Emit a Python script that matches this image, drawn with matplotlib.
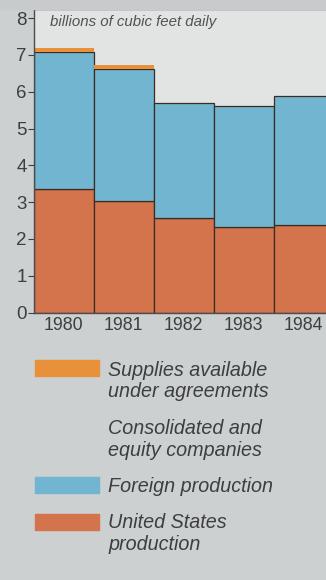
import matplotlib.pyplot as plt
from matplotlib.patches import Rectangle
import numpy as np

plt.rcParams['font.family'] = ['Liberation Sans', 'DejaVu Sans']

years = ['1980', '1981', '1982', '1983', '1984']
us_production = [3.35, 3.02, 2.56, 2.32, 2.37]
foreign_production = [3.72, 3.60, 3.14, 3.28, 3.51]
supplies = [0.11, 0.10, 0.0, 0.0, 0.0]

c_us = '#d3744c'
c_foreign = '#71b5d0'
c_supply = '#e9903b'
c_edge = '#3b2c22'
c_text = '#3c3e40'

fig = plt.figure(figsize=(3.26, 5.8), dpi=100, facecolor='#cdd0d0')
ax = fig.add_axes([33.5 / 326, 1 - 312.5 / 580, 1 - 33.5 / 326, (312.5 - 9) / 580])
ax.set_facecolor('#e2e4e4')

x = np.arange(len(years))
ax.bar(x, us_production, width=1, align='edge', color=c_us, edgecolor=c_edge, linewidth=0.9)
ax.bar(x, foreign_production, bottom=us_production, width=1, align='edge',
       color=c_foreign, edgecolor=c_edge, linewidth=0.9)
tops = np.add(us_production, foreign_production)
ax.bar(x, supplies, bottom=tops, width=1, align='edge', color=c_supply, linewidth=0)

ax.set_xlim(0, (326 - 33.5) / 60)
ax.set_ylim(0, 8.25)
ax.set_yticks(range(9))
ax.set_xticks(x + 0.5)
ax.set_xticklabels(years)
ax.tick_params(axis='y', direction='out', length=4, width=0.8, color=c_text,
               labelsize=13.5, labelcolor=c_text, pad=1)
ax.tick_params(axis='x', length=0, labelsize=12.8, labelcolor=c_text, pad=3)
for side in ['left', 'bottom', 'top']:
    ax.spines[side].set_color('#4a4c4e')
    ax.spines[side].set_linewidth(1.0)
ax.spines['right'].set_visible(False)

ax.text(0.27, 7.9, 'billions of cubic feet daily', style='italic', fontsize=10.8,
        color='#505254', va='center', ha='left')

# top band above the plot frame
fig.patches.append(Rectangle((0, 1 - 9 / 580), 1, 9 / 580, transform=fig.transFigure,
                             color='#c8cbcb', zorder=0))

# legend drawn in pixel coordinates
lg = fig.add_axes([0, 0, 1, 1], facecolor='none')
lg.set_xlim(0, 326)
lg.set_ylim(580, 0)
lg.axis('off')

entries = [
    (c_supply, 360, ['Supplies available', 'under agreements'], 370.5),
    (None, None, ['Consolidated and', 'equity companies'], 429),
    (c_foreign, 477, ['Foreign production'], 486),
    (c_us, 514, ['United States', 'production'], 523),
]
for color, ytop, lines, ytext in entries:
    if color is not None:
        lg.add_patch(Rectangle((34.5, ytop), 64.5, 16, color=color))
    for i, line in enumerate(lines):
        lg.text(108, ytext + i * 21, line, style='italic', fontsize=14.2,
                color=c_text, va='center', ha='left')

fig.savefig('out.png', dpi=100, facecolor=fig.get_facecolor())
